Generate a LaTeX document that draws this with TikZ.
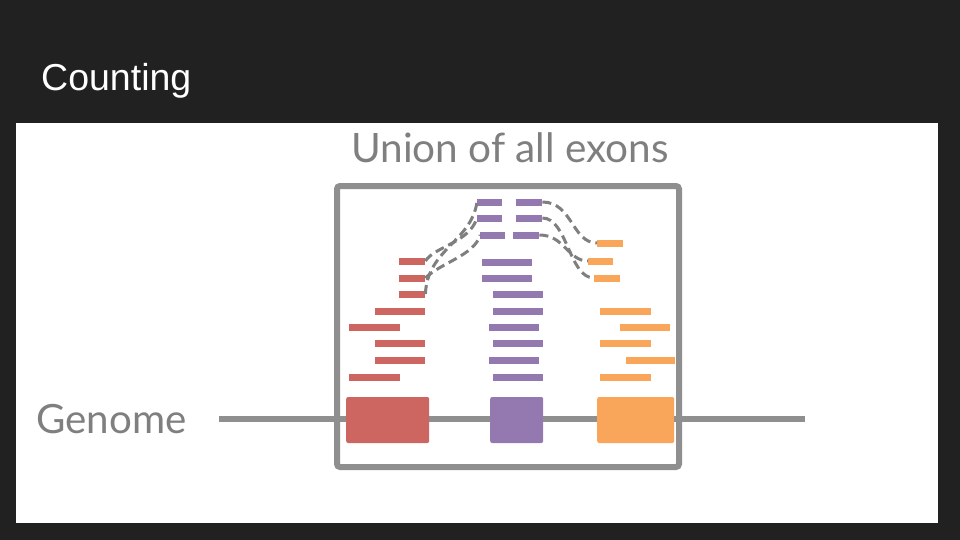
\documentclass[tikz,border=0pt]{standalone}
\usepackage{fontspec}
\setmainfont{Liberation Sans}
\newfontfamily\latofont{Lato}
\usetikzlibrary{positioning}
\definecolor{slidebg}{HTML}{212121}
\definecolor{exonred}{HTML}{CD6660}
\definecolor{exonpurple}{HTML}{9479B1}
\definecolor{exonorange}{HTML}{F9A65A}
\definecolor{linegray}{HTML}{8F8F8F}
\definecolor{textgray}{HTML}{7F7F7F}
\tikzset{
  readbar/.style={rectangle, inner sep=0pt, minimum height=7pt, anchor=west},
  exonbox/.style={rectangle, inner sep=0pt, rounded corners=2pt, minimum height=46pt, anchor=west},
  splice/.style={draw=textgray, line width=3pt, dash pattern=on 9pt off 5pt}
}
\newcommand{\readbar}[5] {\node at (#2,#3) (#1) [readbar, fill=#5, minimum width=#4pt] {};}
\newcommand{\exon}[4] {\node at (#2,420) (#1) [exonbox, fill=#4, minimum width=#3pt] {};}

\begin{document}
\begin{tikzpicture}[x=1pt,y=-1pt]

\fill[slidebg] (0,0) rectangle (960,540);
\fill[white] (16,123) rectangle (938,523);
\useasboundingbox (0,0) rectangle (960,540);

\node at (41,91) (title) [anchor=base west, text=white, font=\fontsize{37.5}{40}\selectfont, inner sep=0pt] {Counting};
\node at (36,433) (genome) [anchor=base west, text=textgray, font=\latofont\fontsize{40.3}{42}\selectfont, inner sep=0pt] {Genome};
\node at (510,163) (union) [anchor=base, text=textgray, font=\latofont\fontsize{40.5}{42}\selectfont, inner sep=0pt] {Union of all exons};

\coordinate (gl) at (219,419);
\coordinate (gr) at (805,419);
\draw[linegray, line width=6pt] (gl) -- (gr);
\node at (508,326.5) (unionbox) [draw=linegray, line width=6pt, rounded corners=3pt, inner sep=0pt, minimum width=342pt, minimum height=281pt] {};

\exon {exred}{346}{83}{exonred}
\exon {expurple}{490}{53}{exonpurple}
\exon {exorange}{597}{77}{exonorange}

% reads on the first exon
\readbar {r1}{399}{261}{26}{exonred}
\readbar {r2}{399}{278}{26}{exonred}
\readbar {r3}{399}{294}{26}{exonred}
\readbar {r4}{375}{311}{50}{exonred}
\readbar {r5}{349}{327}{51}{exonred}
\readbar {r6}{375}{343}{50}{exonred}
\readbar {r7}{375}{360}{50}{exonred}
\readbar {r8}{349}{377}{51}{exonred}

% reads on the second exon
\readbar {pa1}{477}{202}{25}{exonpurple}
\readbar {pb1}{516}{202}{26}{exonpurple}
\readbar {pa2}{477}{218}{25}{exonpurple}
\readbar {pb2}{516}{218}{26}{exonpurple}
\readbar {pa3}{480}{235}{25}{exonpurple}
\readbar {pb3}{513}{235}{26}{exonpurple}
\readbar {p4}{482}{262}{50}{exonpurple}
\readbar {p5}{482}{278}{50}{exonpurple}
\readbar {p6}{493}{294}{50}{exonpurple}
\readbar {p7}{493}{311}{50}{exonpurple}
\readbar {p8}{489}{327}{50}{exonpurple}
\readbar {p9}{493}{343}{50}{exonpurple}
\readbar {p10}{489}{360}{50}{exonpurple}
\readbar {p11}{493}{377}{50}{exonpurple}

% reads on the third exon
\readbar {o1}{597}{243}{26}{exonorange}
\readbar {o2}{588}{261}{25}{exonorange}
\readbar {o3}{594}{278}{26}{exonorange}
\readbar {o4}{600}{311}{51}{exonorange}
\readbar {o5}{620}{327}{50}{exonorange}
\readbar {o6}{600}{343}{51}{exonorange}
\readbar {o7}{626}{360}{49}{exonorange}
\readbar {o8}{600}{377}{51}{exonorange}

% spliced reads
\draw[splice] (r3.east) .. controls +(2,-45) and +(-6,40) .. (pa1.west);
\draw[splice] (r1.east) .. controls +(10,-15) and +(-8,25) .. (pa2.west);
\draw[splice] (r2.east) .. controls +(15,-15) and +(-5,20) .. (pa3.west);
\draw[splice] (pb1.east) .. controls +(30,0) and +(-25,0) .. (o1.west);
\draw[splice] (pb2.east) .. controls +(25,0) and +(-25,0) .. (o3.west);
\draw[splice] (pb3.east) .. controls +(25,0) and +(-20,0) .. (o2.west);

\end{tikzpicture}
\end{document}
